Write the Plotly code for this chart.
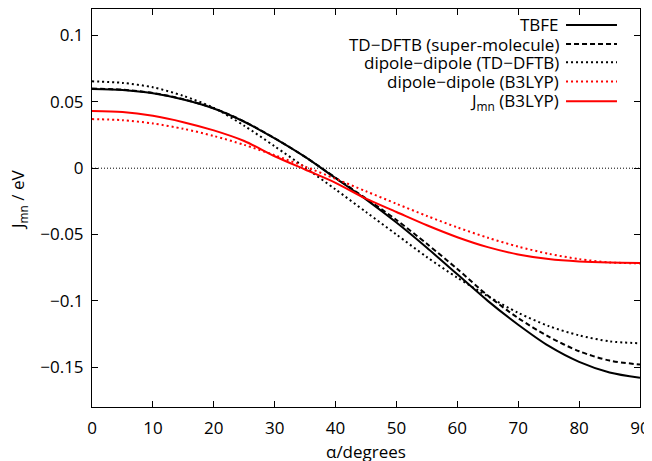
import plotly.graph_objects as go

alpha = [0, 5, 10, 15, 20, 25, 30, 35, 40, 45, 50, 55, 60, 65, 70, 75, 80, 85, 90]

tbfe = [0.0597, 0.0590, 0.0565, 0.0518, 0.0450, 0.0350, 0.0225, 0.0085, -0.0075, -0.0235,
        -0.0410, -0.0600, -0.0800, -0.1000, -0.1180, -0.1340, -0.1460, -0.1540, -0.1580]
tddftb_super = [0.0600, 0.0592, 0.0567, 0.0520, 0.0452, 0.0352, 0.0226, 0.0085, -0.0072, -0.0228,
                -0.0390, -0.0570, -0.0760, -0.0960, -0.1130, -0.1270, -0.1380, -0.1450, -0.1480]
dd_tddftb = [0.0655, 0.0643, 0.0610, 0.0545, 0.0455, 0.0320, 0.0165, 0.0005, -0.0160, -0.0330,
             -0.0500, -0.0670, -0.0825, -0.0965, -0.1090, -0.1190, -0.1260, -0.1305, -0.1320]
dd_b3lyp = [0.0370, 0.0362, 0.0337, 0.0297, 0.0243, 0.0176, 0.0098, 0.0012, -0.0080, -0.0174,
            -0.0268, -0.0360, -0.0446, -0.0524, -0.0591, -0.0645, -0.0685, -0.0710, -0.0718]
jmn_b3lyp = [0.0432, 0.0424, 0.0395, 0.0347, 0.0285, 0.0205, 0.0090, -0.0010, -0.0110, -0.0230,
             -0.0330, -0.0430, -0.0520, -0.0595, -0.0650, -0.0685, -0.0703, -0.0711, -0.0714]

series_names = ["TBFE", "TD\u2212DFTB (super-molecule)", "dipole\u2212dipole (TD\u2212DFTB)",
                "dipole\u2212dipole (B3LYP)", "J<sub>mn</sub> (B3LYP)"]
series_values = [tbfe, tddftb_super, dd_tddftb, dd_b3lyp, jmn_b3lyp]
series_colors = ["black", "black", "black", "red", "red"]
series_dash = ["solid", "5px,3px", "2px,3px", "2px,3px", "solid"]

x_ticks = [0, 10, 20, 30, 40, 50, 60, 70, 80, 90]
y_ticks = [0.1, 0.05, 0, -0.05, -0.1, -0.15]
y_ticktext = ["0.1", "0.05", "0", "\u22120.05", "\u22120.1", "\u22120.15"]

FONT = "Open Sans"

fig = go.Figure()
for name, vals, col, dash in zip(series_names, series_values, series_colors, series_dash):
    fig.add_trace(go.Scatter(x=alpha, y=vals, mode="lines", name=name,
                             line=dict(color=col, width=2, dash=dash, shape="spline", smoothing=0.8),
                             showlegend=False))

# zero axis (dotted)
fig.add_shape(type="line", xref="x domain", yref="y", x0=0, x1=1, y0=0, y1=0,
              line=dict(color="black", width=1, dash="1px,2px"), layer="below")

# custom gnuplot-style key: text right-aligned, sample to the right
key_rows = [0.960, 0.912, 0.866, 0.818, 0.768]
for name, col, dash, yy in zip(series_names, series_colors, series_dash, key_rows):
    fig.add_annotation(xref="paper", yref="paper", x=0.856, y=yy, text=name, showarrow=False,
                       xanchor="right", yanchor="middle", font=dict(family=FONT, size=17, color="black"))
    fig.add_shape(type="line", xref="paper", yref="paper", x0=0.865, x1=0.958, y0=yy, y1=yy,
                  line=dict(color=col, width=2, dash=dash))

fig.add_annotation(xref="paper", yref="paper", x=0.5, y=-0.113, text="\u03b1/degrees", showarrow=False,
                   xanchor="center", yanchor="middle", font=dict(family=FONT, size=17, color="black"))
fig.add_annotation(xref="paper", yref="paper", x=-0.135, y=0.52, text="J<sub>mn</sub> / eV", showarrow=False,
                   textangle=-90, xanchor="center", yanchor="middle",
                   font=dict(family=FONT, size=17, color="black"))

fig.update_xaxes(range=[0, 90], tickvals=x_ticks, ticks="inside", ticklen=6, tickcolor="black",
                 showline=True, linecolor="black", linewidth=1, mirror="ticks", showgrid=False,
                 zeroline=False, ticklabelstandoff=6, ticklabeloverflow="allow",
                 tickfont=dict(family=FONT, size=17, color="black"))
fig.update_yaxes(range=[-0.18, 0.12], tickvals=y_ticks, ticktext=y_ticktext, ticks="inside", ticklen=6,
                 tickcolor="black", showline=True, linecolor="black", linewidth=1, mirror="ticks",
                 showgrid=False, zeroline=False, ticklabelstandoff=4,
                 tickfont=dict(family=FONT, size=17, color="black"))

fig.update_layout(width=644, height=453, margin=dict(l=84, r=12, t=1, b=54),
                  plot_bgcolor="white", paper_bgcolor="white",
                  font=dict(family=FONT, size=17, color="black"))

fig.write_html("out.html", post_script="document.body.style.overflow='hidden';")
